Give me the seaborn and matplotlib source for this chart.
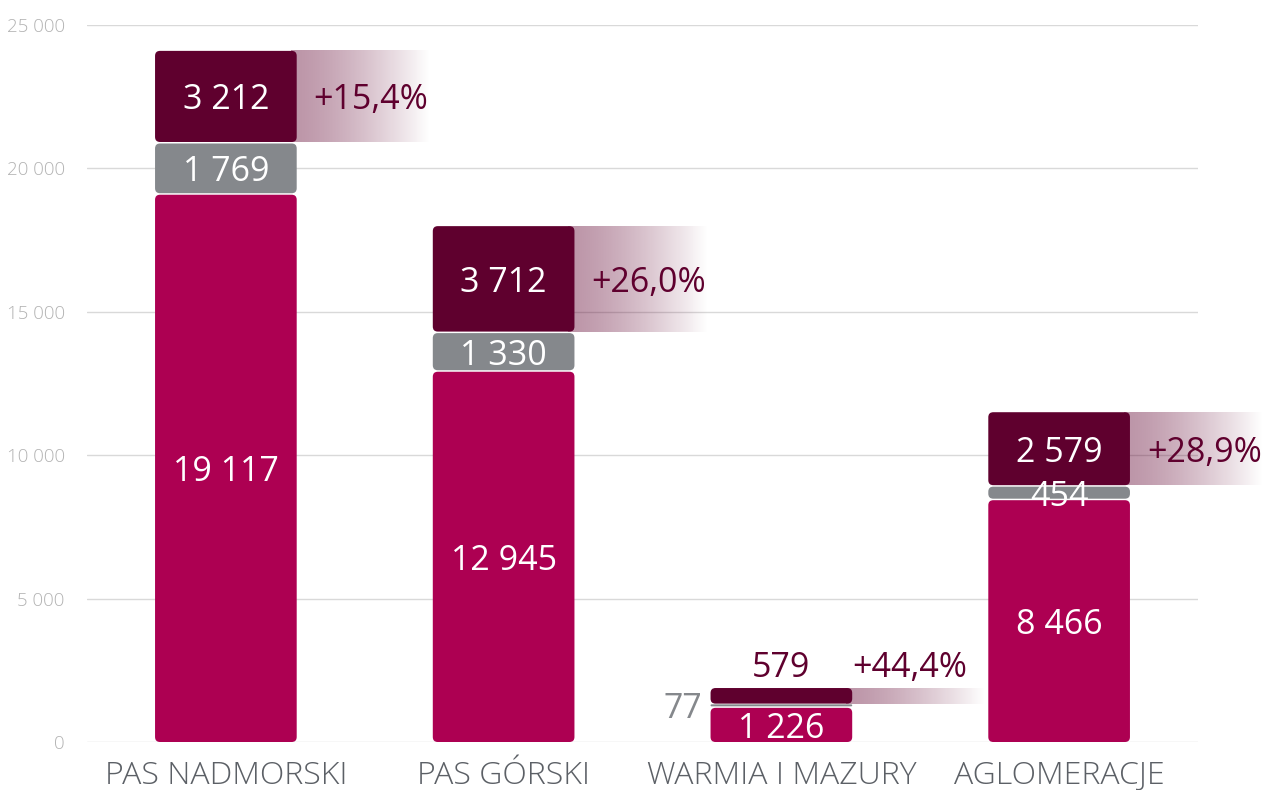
import numpy as np
import pandas as pd
import matplotlib
matplotlib.use("Agg")
import matplotlib.pyplot as plt
import seaborn as sns
from matplotlib.patches import FancyBboxPatch
from matplotlib.colors import to_rgb

regions = ["PAS NADMORSKI", "PAS GÓRSKI", "WARMIA I MAZURY", "AGLOMERACJE"]
base = [19117, 12945, 1226, 8466]
middle = [1769, 1330, 77, 454]
growth = [3212, 3712, 579, 2579]
growth_pct = ["+15,4%", "+26,0%", "+44,4%", "+28,9%"]
y_ticks = [0, 5000, 10000, 15000, 20000, 25000]
y_tick_labels = ["0", "5 000", "10 000", "15 000", "20 000", "25 000"]
small_bar = [False, False, True, False]  # labels drawn outside the bar

BASE_C = "#AD0052"
MID_C = "#85888C"
TOP_C = "#5F002E"


def fmt(v):
    return f"{v:,}".replace(",", " ")


sns.set_theme(style="white")
plt.rcParams["font.family"] = ["Open Sans", "DejaVu Sans"]
FW = "light"   # axis labels
VW = "normal"  # value labels

df = pd.DataFrame({"region": regions, "base": base, "middle": middle, "growth": growth})
df["mid_bottom"] = df["base"]
df["top_bottom"] = df["base"] + df["middle"]

fig = plt.figure(figsize=(12.66, 7.9), dpi=100)
ax = fig.add_axes([87 / 1266, 1 - 742 / 790, (1198 - 87) / 1266, (742 - 25) / 790])

layers = [("base", None, BASE_C), ("middle", "mid_bottom", MID_C), ("growth", "top_bottom", TOP_C)]
bars = {}
for col, bottom, color in layers:
    kw = {} if bottom is None else {"bottom": df[bottom].values}
    sns.barplot(data=df, x="region", y=col, color=color, width=0.51,
                saturation=1, ax=ax, **kw)
    bars[col] = list(ax.containers[-1])

ax.set_xlim(-0.5, 3.5)
ax.set_ylim(0, 25000)
ax.set_yticks(y_ticks)
ax.set_yticklabels(y_tick_labels)
ax.set_xlabel("")
ax.set_ylabel("")
sns.despine(ax=ax, left=True, bottom=True)
ax.yaxis.grid(True, color="#d9d9d9", lw=1)
ax.set_axisbelow(True)
ax.tick_params(axis="y", length=0, pad=16, labelsize=13.5, labelcolor="#b3b3b3")
ax.tick_params(axis="x", length=0, pad=13, labelsize=23, labelcolor="#5c6066")
for t in ax.get_xticklabels() + ax.get_yticklabels():
    t.set_fontweight(FW)

# data units per pixel
bb = ax.get_window_extent()
dx = 4 / bb.width
dy = 25000 / bb.height


def rounded(rect, color, top_gap, bottom_gap):
    x, y, w, h = rect.get_x(), rect.get_y(), rect.get_width(), rect.get_height()
    y0 = y + bottom_gap * dy
    h2 = max(h - (top_gap + bottom_gap) * dy, 2 * dy)
    r = min(5, h2 / dy / 2)
    p = FancyBboxPatch((x, y0), w, h2, boxstyle=f"round,pad=0,rounding_size={r * dx}",
                       mutation_aspect=dy / dx, fc=color, ec="none", zorder=3)
    ax.add_patch(p)
    rect.remove()
    return x, y0, w, h2


geo = {}
geo["base"] = [rounded(r, BASE_C, 1, 0) for r in bars["base"]]
geo["middle"] = [rounded(r, MID_C, 0.5, 0.5) for r in bars["middle"]]
geo["growth"] = [rounded(r, TOP_C, 0, 1) for r in bars["growth"]]

# gradient bands next to the growth segment
rgb = to_rgb(TOP_C)
t = np.linspace(0, 1, 256)
grad = np.zeros((1, 256, 4))
grad[..., :3] = rgb
grad[..., 3] = 0.42 * (1 - t ** 1.4)
band_w = 133 * dx
for (x, y0, w, h) in geo["growth"]:
    ax.imshow(grad, extent=[x + w - 6 * dx, x + w + band_w, y0, y0 + h],
              aspect="auto", zorder=2, clip_on=False, interpolation="bilinear")
ax.set_xlim(-0.5, 3.5)
ax.set_ylim(0, 25000)

VS = 24.5
for i in range(len(regions)):
    for col, vals in [("base", base), ("middle", middle), ("growth", growth)]:
        x, y0, w, h = geo[col][i]
        cx, cy = x + w / 2, y0 + h / 2
        if small_bar[i] and col == "middle":
            ax.text(x - 8 * dx, cy, fmt(vals[i]), ha="right", va="center_baseline",
                    fontsize=VS, color=MID_C, fontweight=VW, zorder=5)
        elif small_bar[i] and col == "growth":
            ax.annotate(fmt(vals[i]), (cx, y0 + h), xytext=(0, 8), textcoords="offset points",
                        ha="center", va="baseline", fontsize=VS, color=TOP_C,
                        fontweight=VW, zorder=5)
        else:
            ax.text(cx, cy, fmt(vals[i]), ha="center", va="center_baseline",
                    fontsize=VS, color="white", fontweight=VW, zorder=5)
    x, y0, w, h = geo["growth"][i]
    if small_bar[i]:
        ax.annotate(growth_pct[i], (x + w, y0 + h), xytext=(0, 8), textcoords="offset points",
                    ha="left", va="baseline", fontsize=VS, color=TOP_C,
                    fontweight=VW, zorder=5, annotation_clip=False)
    else:
        ax.text(x + w + 17 * dx, y0 + h / 2, growth_pct[i], ha="left", va="center_baseline",
                fontsize=VS, color=TOP_C, fontweight=VW, zorder=5, clip_on=False)

fig.savefig("out.png", dpi=100, facecolor="white")
